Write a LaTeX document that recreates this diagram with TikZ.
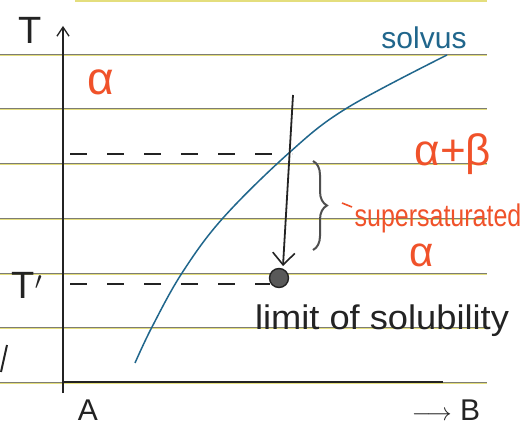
\documentclass[tikz,border=0pt]{standalone}
\usepackage{fontspec}
\setmainfont{Liberation Sans}
\usetikzlibrary{arrows.meta,decorations.pathreplacing}
\definecolor{rulegray}{RGB}{125,125,115}
\definecolor{ruleyellow}{RGB}{228,222,125}
\definecolor{solvusblue}{RGB}{32,102,140}
\definecolor{inkorange}{RGB}{240,82,42}
\definecolor{inkblack}{RGB}{35,35,35}
\tikzset{
  ruleline/.style={rulegray, line width=0.6pt},
  ruleyel/.style={ruleyellow, line width=1.1pt},
  axisline/.style={inkblack, line width=1.4pt},
  dashline/.style={inkblack, line width=2pt, dash pattern=on 17pt off 20pt},
  solvusline/.style={solvusblue, line width=1.5pt},
  blacktext/.style={inkblack, inner sep=0pt},
  orangetext/.style={inkorange, inner sep=0pt},
  bluetext/.style={solvusblue, inner sep=0pt},
}
\begin{document}
\begin{tikzpicture}[x=1pt,y=-1pt]
\useasboundingbox (0,0) rectangle (527,427);
\fill[white] (0,0) rectangle (527,427);
% ruled paper
\draw[ruleyel] (75,1) -- (487,1);
\foreach \y in {54,108,163,218,273,327,382}{
  \draw[ruleline] (0,\y) -- (487,\y);
  \draw[ruleyel] (0,\y+1.3) -- (487,\y+1.3);
}
% stray stroke at left edge
\draw[inkblack, line width=2pt] (1,372) -- (7,345);
% axes
\coordinate (origin) at (63,393);
\coordinate (ytop) at (63,26);
\coordinate (xstart) at (63,382);
\coordinate (xend) at (443,382);
\draw[axisline, -{Straight Barb[length=9pt,width=12pt,line width=1.3pt]}] (origin) -- (ytop);
\draw[axisline, line width=1.2pt] (xstart) -- (xend);
\node[blacktext, font=\fontsize{38}{40}\selectfont] (T) at (30,30) {T};
\node[blacktext, font=\fontsize{38}{40}\selectfont] (Tp) at (27,285) {T$'$};
\node[blacktext, font=\fontsize{30}{32}\selectfont] (A) at (88,410) {A};
\node[blacktext, font=\fontsize{30}{32}\selectfont] (B) at (446,410) {$\longrightarrow$ B};
% phase labels
\node[orangetext, font=\fontsize{46}{48}\selectfont] (alpha) at (101,82) {α};
\node[orangetext, font=\fontsize{44}{46}\selectfont] (ab) at (453,154) {α+β};
\node[orangetext, font=\fontsize{25}{28}\selectfont, yscale=1.25, transform shape] (super) at (438,218) {supersaturated};
\node[orangetext, font=\fontsize{42}{44}\selectfont] (alpha2) at (422,255) {α};
\draw[inkorange, line width=1.6pt] (342,203) -- (352,207);
% solvus
\draw[solvusline] plot[smooth, tension=0.6] coordinates {(135,363) (152,327) (182,273) (223,218) (290,152) (347,108) (447,55)};
\node[bluetext, font=\fontsize{30}{32}\selectfont] (solvus) at (424,38) {solvus};
% dashed lines
\coordinate (d1a) at (70,154);
\coordinate (d1b) at (292,154);
\coordinate (d2a) at (70,284);
\coordinate (d2b) at (270,284);
\draw[dashline] (d1a) -- (d1b);
\draw[dashline] (d2a) -- (d2b);
% cooling arrow
\coordinate (arrtop) at (293,95);
\coordinate (arrtip) at (283,266);
\draw[inkblack, line width=1.8pt, -{Straight Barb[length=12pt,width=22pt,line width=1.6pt]}] (arrtop) -- (arrtip);
% limit dot
\node[circle, draw=inkblack, fill=black!65, line width=1.4pt, minimum size=19pt, inner sep=0pt] (dot) at (279,278) {};
% brace
\coordinate (brtop) at (313,161);
\coordinate (brbot) at (313,250);
\draw[inkblack!80, line width=2pt, decorate, decoration={brace, amplitude=14pt}] (brtop) -- (brbot);
% limit label
\node[blacktext, font=\fontsize{31}{34}\selectfont, xscale=1.17, yscale=1.1, transform shape] (limit) at (382,321) {limit of solubility};
\end{tikzpicture}
\end{document}
